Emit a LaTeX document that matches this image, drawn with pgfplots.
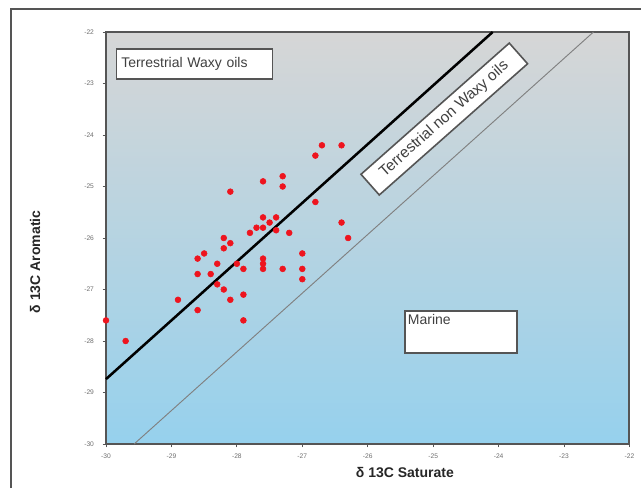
\documentclass[border=0pt]{standalone}
\usepackage{pgfplots}
\pgfplotsset{compat=1.18}
\usepackage{fontspec}
\setmainfont{Liberation Sans}
\definecolor{bgtop}{RGB}{214,214,214}
\definecolor{bgbot}{RGB}{150,209,237}
\definecolor{framec}{RGB}{85,85,85}
\definecolor{ticklab}{RGB}{110,110,110}
\definecolor{ptred}{RGB}{238,20,30}
\begin{document}
\begin{tikzpicture}
\draw[line width=1.2pt, color=framec] (8.25pt,-366pt) -- (8.25pt,-6.75pt) -- (480.75pt,-6.75pt);
\begin{axis}[
 at={(79.5pt,-333pt)}, anchor=south west,
 scale only axis, width=392.6pt, height=309pt,
 xmin=-30, xmax=-22, ymin=-30, ymax=-22,
 xtick={-30,-29,-28,-27,-26,-25,-24,-23,-22},
 ytick={-30,-29,-28,-27,-26,-25,-24,-23,-22},
 tick pos=left, tick align=outside, major tick length=2.5pt,
 tick style={framec, line width=0.6pt},
 axis line style={framec, line width=1.5pt},
 ticklabel style={font=\fontsize{5}{6}\selectfont, text=ticklab},
 yticklabel style={xshift=-3pt},
 xticklabel style={yshift=-1.5pt},
 /pgf/number format/assume math mode=true,
 axis background/.style={top color=bgtop, bottom color=bgbot},
 clip=false,
 xlabel={δ 13C Saturate}, ylabel={δ 13C Aromatic},
 label style={font=\fontsize{10.5}{12}\selectfont\bfseries, text=black!85},
 xlabel style={at={(axis description cs:0.571,-0.07)}, anchor=center},
 ylabel style={at={(axis description cs:-0.1356,0.442)}, anchor=center},
]
\addplot[black, line width=1.9pt] coordinates {(-30,-28.74) (-24.09,-22)};
\addplot[gray, line width=0.7pt] coordinates {(-29.57,-30) (-22.55,-22)};
\addplot[only marks, mark=*, mark size=2.2pt, color=ptred] coordinates {
(-30.0,-27.6) (-29.7,-28.0) (-28.9,-27.2) (-28.6,-27.4) (-28.6,-26.7) (-28.6,-26.4)
(-28.5,-26.3) (-28.4,-26.7) (-28.3,-26.5) (-28.3,-26.9) (-28.2,-27.0) (-28.2,-26.2)
(-28.2,-26.0) (-28.1,-26.1) (-28.1,-27.2) (-28.1,-25.1) (-28.0,-26.5) (-27.9,-26.6)
(-27.9,-27.1) (-27.9,-27.6) (-27.8,-25.9) (-27.7,-25.8) (-27.6,-25.8) (-27.6,-25.6)
(-27.6,-24.9) (-27.6,-26.4) (-27.6,-26.5) (-27.6,-26.6) (-27.5,-25.7) (-27.4,-25.6)
(-27.4,-25.85) (-27.3,-24.8) (-27.3,-25.0) (-27.3,-26.6) (-27.2,-25.9) (-27.0,-26.3)
(-27.0,-26.6) (-27.0,-26.8) (-26.8,-25.3) (-26.8,-24.4) (-26.7,-24.2) (-26.4,-24.2)
(-26.4,-25.7) (-26.3,-26.0)
};
\node[draw=framec, line width=1.2pt, fill=white, anchor=north west, minimum width=117pt, minimum height=22.5pt, text width=110pt, align=left, font=\fontsize{10.5}{12}\selectfont, text=black!75] at (axis cs:-29.85,-22.31) {Terrestrial Waxy oils};
\node[draw=framec, line width=1.2pt, fill=white, rotate=41.5, minimum width=148.5pt, minimum height=20.7pt, inner sep=2pt, font=\fontsize{11.5}{13}\selectfont, text=black!75] at (axis cs:-24.83,-23.69) {Terrestrial non Waxy oils};
\draw[draw=framec, line width=1.2pt, fill=white] (axis cs:-25.43,-27.42) rectangle (axis cs:-23.72,-28.23);
\node[anchor=north west, inner sep=2pt, font=\fontsize{10.5}{12}\selectfont, text=black!75] at (axis cs:-25.43,-27.42) {Marine};
\end{axis}
\pgfresetboundingbox
\path[use as bounding box] (0pt,0pt) rectangle (480.75pt,-366pt);
\end{tikzpicture}
\end{document}
